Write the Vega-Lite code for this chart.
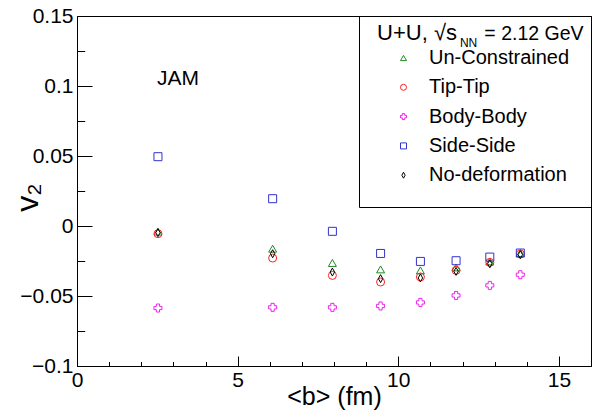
{
  "$schema": "https://vega.github.io/schema/vega-lite/v6.json",
  "width": 514,
  "height": 350,
  "autosize": {"type": "none"},
  "padding": {"left": 77, "top": 16, "right": 12, "bottom": 49},
  "config": {
    "font": "Liberation Sans",
    "view": {"stroke": "black", "strokeWidth": 1},
    "axis": {
      "domainColor": "black", "tickColor": "black", "labelColor": "black", "titleColor": "black",
      "grid": false, "labelFont": "Liberation Sans", "titleFont": "Liberation Sans",
      "labelFontSize": 21, "titleFontWeight": "normal", "tickWidth": 1, "domainWidth": 1
    },
    "text": {"font": "Liberation Sans", "color": "black"}
  },
  "datasets": {
    "v2": [
      {"series": "Un-Constrained", "b": 2.52, "v2": -0.004},
      {"series": "Un-Constrained", "b": 6.09, "v2": -0.0162},
      {"series": "Un-Constrained", "b": 7.95, "v2": -0.0264},
      {"series": "Un-Constrained", "b": 9.45, "v2": -0.031},
      {"series": "Un-Constrained", "b": 10.69, "v2": -0.0317},
      {"series": "Un-Constrained", "b": 11.8, "v2": -0.0296},
      {"series": "Un-Constrained", "b": 12.85, "v2": -0.0253},
      {"series": "Un-Constrained", "b": 13.8, "v2": -0.0193},
      {"series": "Tip-Tip", "b": 2.52, "v2": -0.0055},
      {"series": "Tip-Tip", "b": 6.09, "v2": -0.0229},
      {"series": "Tip-Tip", "b": 7.95, "v2": -0.0353},
      {"series": "Tip-Tip", "b": 9.45, "v2": -0.040},
      {"series": "Tip-Tip", "b": 10.69, "v2": -0.0364},
      {"series": "Tip-Tip", "b": 11.8, "v2": -0.0317},
      {"series": "Tip-Tip", "b": 12.85, "v2": -0.026},
      {"series": "Tip-Tip", "b": 13.8, "v2": -0.020},
      {"series": "Body-Body", "b": 2.52, "v2": -0.0586},
      {"series": "Body-Body", "b": 6.09, "v2": -0.0581},
      {"series": "Body-Body", "b": 7.95, "v2": -0.0581},
      {"series": "Body-Body", "b": 9.45, "v2": -0.0571},
      {"series": "Body-Body", "b": 10.69, "v2": -0.0546},
      {"series": "Body-Body", "b": 11.8, "v2": -0.0496},
      {"series": "Body-Body", "b": 12.85, "v2": -0.0424},
      {"series": "Body-Body", "b": 13.8, "v2": -0.0348},
      {"series": "Side-Side", "b": 2.52, "v2": 0.0495},
      {"series": "Side-Side", "b": 6.09, "v2": 0.0195},
      {"series": "Side-Side", "b": 7.95, "v2": -0.0038},
      {"series": "Side-Side", "b": 9.45, "v2": -0.0196},
      {"series": "Side-Side", "b": 10.69, "v2": -0.0253},
      {"series": "Side-Side", "b": 11.8, "v2": -0.0248},
      {"series": "Side-Side", "b": 12.85, "v2": -0.0222},
      {"series": "Side-Side", "b": 13.8, "v2": -0.0193},
      {"series": "No-deformation", "b": 2.52, "v2": -0.0048},
      {"series": "No-deformation", "b": 6.09, "v2": -0.0198},
      {"series": "No-deformation", "b": 7.95, "v2": -0.0329},
      {"series": "No-deformation", "b": 9.45, "v2": -0.0376},
      {"series": "No-deformation", "b": 10.69, "v2": -0.0371},
      {"series": "No-deformation", "b": 11.8, "v2": -0.0324},
      {"series": "No-deformation", "b": 12.85, "v2": -0.027},
      {"series": "No-deformation", "b": 13.8, "v2": -0.0205}
    ]
  },
  "layer": [
    {
      "data": {"name": "v2"},
      "mark": {"type": "point", "filled": false, "strokeWidth": 1, "size": 64, "opacity": 1},
      "encoding": {
        "x": {
          "field": "b", "type": "quantitative",
          "scale": {"domain": [0, 16], "nice": false, "zero": false},
          "axis": {
            "orient": "bottom", "values": [0, 5, 10, 15], "tickSize": -10, "labelPadding": 13,
            "labelFlush": false, "labelOverlap": false,
            "title": "<b> (fm)", "titleFontSize": 25, "titlePadding": -6
          }
        },
        "y": {
          "field": "v2", "type": "quantitative",
          "scale": {"domain": [-0.1, 0.15], "nice": false, "zero": false},
          "axis": {
            "orient": "left", "values": [-0.1, -0.05, 0, 0.05, 0.1, 0.15], "format": ".2~f",
            "tickSize": -15, "labelPadding": 19, "labelFlush": false, "labelOverlap": false,
            "title": "v₂", "titleFontSize": 32, "titleBaseline": "alphabetic", "titleX": -40, "titleY": 181
          }
        },
        "color": {
          "field": "series", "type": "nominal",
          "scale": {
            "domain": ["Un-Constrained", "Tip-Tip", "Body-Body", "Side-Side", "No-deformation"],
            "range": ["#1f8a1f", "#ff2020", "#ee22ee", "#3333cc", "#000000"]
          },
          "legend": {
            "title": " ", "titleFontSize": 10, "titlePadding": 1, "titleLimit": 400,
            "orient": "top-right", "offset": 0, "padding": 21,
            "strokeColor": "black",
            "labelFontSize": 20, "labelFont": "Liberation Sans", "labelColor": "black",
            "rowPadding": 9.3, "symbolSize": 36, "symbolOffset": 13.5, "labelOffset": 15.5,
            "symbolStrokeWidth": 1
          }
        },
        "shape": {
          "field": "series", "type": "nominal",
          "scale": {
            "domain": ["Un-Constrained", "Tip-Tip", "Body-Body", "Side-Side", "No-deformation"],
            "range": ["triangle-up", "circle", "cross", "square", "M0,-1L0.55,0L0,1L-0.55,0Z"]
          },
          "legend": {
            "title": " ", "titleFontSize": 10, "titlePadding": 1, "titleLimit": 400,
            "orient": "top-right", "offset": 0, "padding": 21,
            "strokeColor": "black",
            "labelFontSize": 20, "labelFont": "Liberation Sans", "labelColor": "black",
            "rowPadding": 9.3, "symbolSize": 36, "symbolOffset": 13.5, "labelOffset": 15.5,
            "symbolStrokeWidth": 1
          }
        }
      }
    },
    {
      "data": {"name": "v2"},
      "mark": {"type": "point", "opacity": 0},
      "encoding": {
        "x": {
          "field": "b", "type": "quantitative",
          "axis": {
            "orient": "bottom", "values": [1, 2, 3, 4, 6, 7, 8, 9, 11, 12, 13, 14, 16],
            "tickSize": -4.5, "labels": false, "domain": false, "title": null
          }
        },
        "y": {
          "field": "v2", "type": "quantitative",
          "axis": {
            "orient": "left", "values": [-0.075, -0.025, 0.025, 0.075, 0.125],
            "tickSize": -7.7, "labels": false, "domain": false, "title": null
          }
        }
      }
    },
    {
      "data": {"values": [{}]},
      "mark": {"type": "text", "text": "JAM", "align": "left", "baseline": "alphabetic", "fontSize": 21},
      "encoding": {"x": {"datum": 2.49, "type": "quantitative", "axis": null}, "y": {"datum": 0.1009, "type": "quantitative", "axis": null}}
    },
    {
      "data": {"values": [{}]},
      "mark": {"type": "text", "text": "U+U, √s", "align": "right", "baseline": "alphabetic", "fontSize": 22},
      "encoding": {"x": {"datum": 11.83, "type": "quantitative", "axis": null}, "y": {"datum": 0.1331, "type": "quantitative", "axis": null}}
    },
    {
      "data": {"values": [{}]},
      "mark": {"type": "text", "text": "NN", "align": "left", "baseline": "alphabetic", "fontSize": 12},
      "encoding": {"x": {"datum": 11.92, "type": "quantitative", "axis": null}, "y": {"datum": 0.1281, "type": "quantitative", "axis": null}}
    },
    {
      "data": {"values": [{}]},
      "mark": {"type": "text", "text": "= 2.12 GeV", "align": "left", "baseline": "alphabetic", "fontSize": 19.5},
      "encoding": {"x": {"datum": 12.68, "type": "quantitative", "axis": null}, "y": {"datum": 0.1331, "type": "quantitative", "axis": null}}
    }
  ],
  "resolve": {"axis": {"x": "independent", "y": "independent"}}
}
